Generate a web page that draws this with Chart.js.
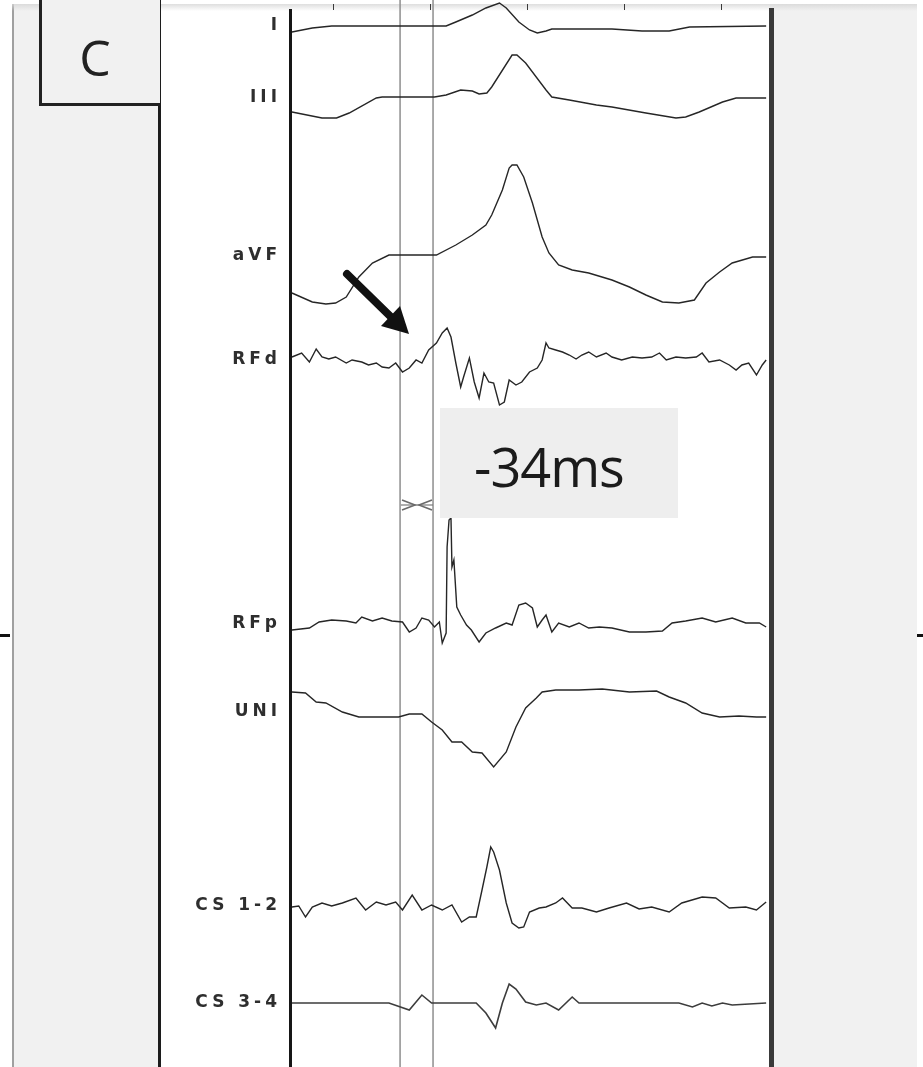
<!DOCTYPE html>
<html>
<head>
<meta charset="utf-8">
<script src="https://cdn.jsdelivr.net/npm/chart.js@4.4.1/dist/chart.umd.min.js"></script>
<style>
  html, body { margin:0; padding:0; background:#ffffff; }
  #page { position:relative; width:923px; height:1067px; overflow:hidden; background:#ffffff; }
  .abs { position:absolute; }
  #grayBg { left:12px; top:4px; width:905px; height:1063px; background:#f1f1f1; border-left:2px solid #a0a0a0; box-sizing:border-box; }
  #whitePanel { left:160px; top:4px; width:610px; height:1063px; background:#ffffff; }
  #topShade { left:12px; top:4px; width:905px; height:7px; background:linear-gradient(#d6d6d6, rgba(241,241,241,0)); opacity:0.8; }
  #leftLine { left:158px; top:0; width:3px; height:1067px; background:#1c1c1c; }
  #boxC { left:39px; top:-3px; width:121px; height:109px; border:3px solid #222; border-right:none; box-sizing:border-box; background:#f1f1f1; }
  #boxC span { position:absolute; left:0; width:106px; top:27px; text-align:center; font-family:"Open Sans", sans-serif; font-size:50px; line-height:60px; color:#222; }
  #msBox { left:440px; top:408px; width:238px; height:110px; background:#eeeeee; }
  #msBox span { position:absolute; left:34px; top:23px; font-family:"Open Sans", sans-serif; font-size:54px; line-height:70px; color:#1b1b1b; letter-spacing:-1px; }
  .stub { height:3px; background:#111; top:634px; }
  canvas { position:absolute; left:0; top:0; }
  svg { position:absolute; left:0; top:0; }
</style>
</head>
<body>
<div id="page">
  <div id="grayBg" class="abs"></div>
  <div id="whitePanel" class="abs"></div>
  <div id="topShade" class="abs"></div>
  <div id="leftLine" class="abs"></div>
  <div class="abs stub" style="left:0;width:10px;"></div>
  <div class="abs stub" style="left:917px;width:6px;"></div>
  <canvas id="ecg" width="923" height="1067"></canvas>
  <div id="boxC" class="abs"><span>C</span></div>
  <div id="msBox" class="abs"><span>-34ms</span></div>
  <svg width="923" height="1067" viewBox="0 0 923 1067">
    <line x1="347" y1="274" x2="392" y2="318" stroke="#111" stroke-width="8" stroke-linecap="round"/>
    <polygon points="409,334 381,326 400,306" fill="#111"/>
    <line x1="401" y1="505" x2="433" y2="505" stroke="#7a7a7a" stroke-width="1.2"/>
    <polyline points="402,500 415,505 402,510" fill="none" stroke="#6a6a6a" stroke-width="1.6"/>
    <polyline points="432,500 419,505 432,510" fill="none" stroke="#6a6a6a" stroke-width="1.6"/>
  </svg>
</div>
<script>
// ---- data ----
const channelNames = ['I', 'III', 'aVF', 'RFd', 'RFp', 'UNI', 'CS 1-2', 'CS 3-4'];
const channelBaselines = [1041, 969, 811, 707, 443, 355, 161, 64];
const timeTicks = [45, 145, 245, 345, 445];          // ms
const cursorTimes = [113.5, 147.5];                   // ms (-34 ms)

const leadI_t = [2,23,43,161,171,188,202,216,223,236,247,255,264,270,332,363,391,412,491];
const leadI_v = [-6,-2,0,0,4,11,18,23,18,4,-4,-7,-5,-3,-3,-5,-5,-1,0];

const leadIII_t = [2,33,48,61,89,95,149,161,176,188,195,203,208,229,234,243,264,270,288,316,332,367,398,408,422,446,460,491];
const leadIII_v = [-14,-20,-20,-15,0,1,1,3,8,7,4,5,11,43,43,35,8,1,-2,-7,-9,-15,-20,-19,-14,-4,0,0];

const aVF_t = [2,23,37,47,58,71,85,102,151,171,188,202,208,219,226,229,234,241,250,260,267,277,291,308,332,350,367,384,401,417,429,443,456,477,491];
const aVF_v = [-37,-46,-48,-47,-41,-21,-7,1,1,11,21,31,41,66,88,91,91,79,53,19,3,-9,-14,-17,-24,-31,-39,-46,-47,-44,-27,-16,-7,-1,-1];

const RFd_t = [2,12,20,27,33,40,47,58,64,74,81,89,95,102,109,116,123,130,136,143,151,157,162,166,171,176,179,185,190,195,200,205,210,216,221,226,233,239,247,255,260,264,267,274,281,288,295,301,308,316,326,332,342,353,363,373,381,388,398,408,419,425,432,443,453,460,466,473,481,487,491];
const RFd_v = [3,7,-2,11,3,1,3,-3,0,-2,-5,-3,-7,-8,-3,-12,-8,0,-3,10,17,27,32,23,-3,-27,-17,2,-22,-38,-13,-22,-23,-45,-42,-20,-25,-22,-12,-8,0,17,12,10,8,5,1,5,8,3,7,3,0,3,2,3,7,0,3,2,3,7,-2,0,-5,-10,-5,-3,-15,-5,0];

const RFp_t = [2,20,30,43,58,68,74,85,95,105,116,123,130,136,143,149,154,157,161,162,164,166,167,169,172,176,182,187,195,202,212,223,229,236,243,250,255,260,264,270,277,288,298,308,319,332,350,367,384,394,408,425,439,456,470,484,491];
const RFp_v = [-6,-4,2,4,3,1,7,3,6,3,2,-8,-4,6,4,-3,2,-19,-9,77,104,106,57,64,17,9,-1,-6,-18,-9,-4,1,-1,19,21,16,-3,4,9,-8,1,-3,1,-4,-3,-4,-8,-8,-7,1,3,6,2,6,1,1,-3];

const UNI_t = [2,16,27,37,54,71,112,123,136,146,157,167,177,188,198,210,223,233,243,254,260,274,298,322,350,378,391,408,425,443,463,481,491];
const UNI_v = [20,19,10,9,0,-5,-5,-2,-2,-10,-18,-30,-30,-40,-41,-55,-40,-15,4,14,20,22,22,23,20,21,15,9,-1,-5,-4,-5,-5];

const CS12_t = [2,9,16,23,33,43,54,68,78,89,99,109,116,126,136,146,157,167,177,185,192,198,203,207,210,216,223,229,236,241,247,257,264,274,281,291,301,316,329,347,360,373,391,404,425,439,453,470,481,491];
const CS12_v = [-1,0,-11,-1,3,0,3,8,-4,4,1,4,-4,11,-4,1,-4,1,-16,-11,-11,16,39,59,54,36,3,-17,-22,-21,-6,-2,-1,3,8,-2,-2,-6,-2,3,-3,-1,-6,3,9,8,-2,-1,-4,4];

const CS34_t = [2,102,123,136,146,192,202,212,219,226,233,243,254,264,277,291,298,401,415,425,435,446,456,491];
const CS34_v = [0,0,-7,8,0,0,-10,-25,0,19,14,1,-2,0,-7,6,0,0,-4,0,-3,0,-2,0];

const channelTimes = [leadI_t, leadIII_t, aVF_t, RFd_t, RFp_t, UNI_t, CS12_t, CS34_t];
const channelValues = [leadI_v, leadIII_v, aVF_v, RFd_v, RFp_v, UNI_v, CS12_v, CS34_v];

// ---- build chart ----
const Y_MAX = 1057;
const X_MAX = 496;

const traceSets = channelNames.map((name, i) => ({
  label: name,
  data: channelTimes[i].map((t, k) => ({ x: t, y: channelBaselines[i] + channelValues[i][k] })),
  showLine: true,
  borderColor: i === 7 ? '#3c3c3c' : '#262626',
  borderWidth: i === 7 ? 1.6 : 1.4,
  pointRadius: 0,
  tension: 0,
  order: 0,
  clip: { left: 0, top: 10, right: 0, bottom: 0 }
}));

const cursorSets = cursorTimes.map(t => ({
  label: 'cursor',
  data: [{ x: t, y: -20 }, { x: t, y: Y_MAX + 30 }],
  showLine: true,
  borderColor: '#8e8e8e',
  borderWidth: 1.5,
  pointRadius: 0,
  order: 1,
  clip: { left: 0, top: 10, right: 0, bottom: 0 }
}));

const labelSpacing = {
  id: 'labelSpacing',
  beforeDraw(chart) { chart.ctx.letterSpacing = '4px'; }
};

const labelByValue = {};
channelBaselines.forEach((v, i) => { labelByValue[v] = channelNames[i]; });

function noPad(s) { s.paddingTop = 0; s.paddingBottom = 0; s.paddingLeft = 0; s.paddingRight = 0; }

new Chart(document.getElementById('ecg'), {
  type: 'scatter',
  data: { datasets: [...cursorSets, ...traceSets] },
  options: {
    responsive: false,
    devicePixelRatio: 1,
    animation: false,
    events: [],
    layout: { padding: { left: 0, right: 152, top: 4, bottom: 0 } },
    plugins: { legend: { display: false }, tooltip: { enabled: false }, title: { display: false } },
    scales: {
      x: {
        type: 'linear', position: 'top', min: 0, max: X_MAX,
        afterBuildTicks(s) { s.ticks = timeTicks.map(v => ({ value: v })); },
        afterFit(s) { s.height = 6; noPad(s); },
        ticks: { display: false },
        grid: { display: true, drawOnChartArea: false, drawTicks: true, tickLength: 6, color: '#3a3a3a', lineWidth: 1 },
        border: { display: false }
      },
      y: {
        type: 'linear', position: 'left', min: 0, max: Y_MAX,
        afterFit(s) { s.width = 290; noPad(s); },
        afterBuildTicks(s) {
          s.ticks = [...channelBaselines].sort((a, b) => a - b).map(v => ({ value: v }));
        },
        ticks: {
          autoSkip: false,
          padding: 9,
          color: '#2e2e2e',
          font: { family: '"DejaVu Sans", sans-serif', size: 17, weight: 'bold' },
          callback: (v) => labelByValue[v] || ''
        },
        grid: { display: true, drawOnChartArea: false, drawTicks: false },
        border: { display: true, color: '#161616', width: 3 }
      },
      y2: {
        type: 'linear', position: 'right', min: 0, max: Y_MAX,
        afterFit(s) { s.width = 0; noPad(s); },
        ticks: { display: false },
        grid: { display: true, drawOnChartArea: false, drawTicks: false },
        border: { display: true, color: '#3a3a3a', width: 5 }
      }
    }
  },
  plugins: [labelSpacing]
});
</script>
</body>
</html>
